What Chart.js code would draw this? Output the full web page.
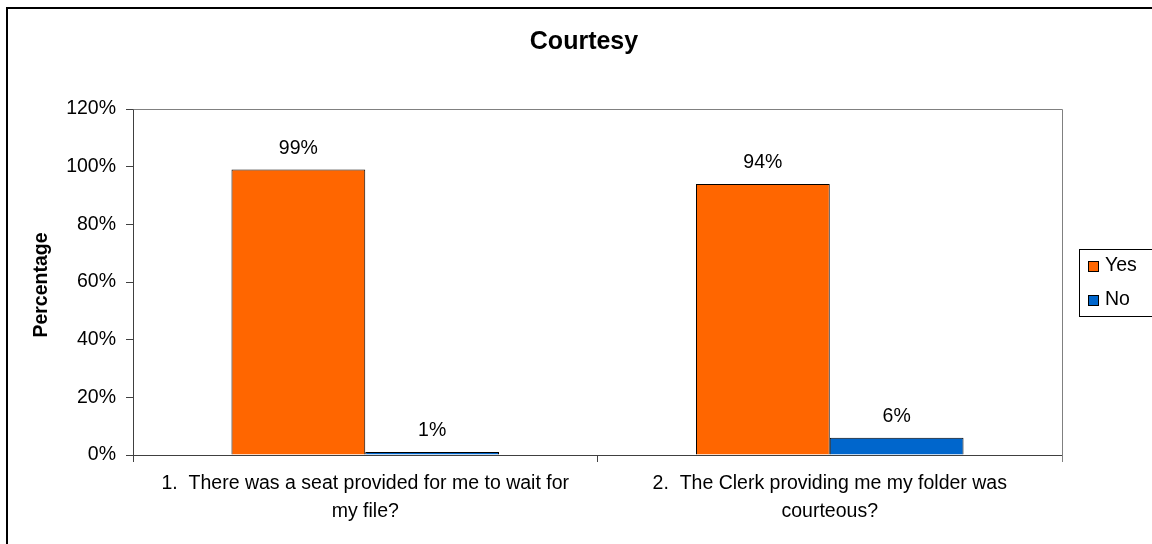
<!DOCTYPE html>
<html>
<head>
<meta charset="utf-8">
<script src="https://cdn.jsdelivr.net/npm/chart.js@4"></script>
<style>
  html, body { margin: 0; padding: 0; background: #ffffff; }
  #wrap { width: 1152px; height: 544px; }
</style>
</head>
<body>
<div id="wrap"><canvas id="c" width="1152" height="544"></canvas></div>
<script>
// Survey questions (x categories, wrapped onto two lines)
const categories = [
  ['1.  There was a seat provided for me to wait for', 'my file?'],
  ['2.  The Clerk providing me my folder was', 'courteous?']
];
// Share of answers, in percent
const yesValues = [99, 94];
const noValues = [1, 6];
const seriesNames = ['Yes', 'No'];
const yTicks = [0, 20, 40, 60, 80, 100, 120];
const chartTitle = 'Courtesy';
const yAxisTitle = 'Percentage';

const FONT = '"Liberation Sans", Arial, sans-serif';
const TEXT_SIZE = 19.5;
const ORANGE = '#FF6600';
const BLUE = '#0066CC';

// Frame, titles, legend and value labels
const decorations = {
  id: 'decorations',
  afterDraw(chart) {
    const ctx = chart.ctx;
    const area = chart.chartArea;
    ctx.save();

    // plot area frame (top and right edges)
    ctx.strokeStyle = '#808080';
    ctx.lineWidth = 1;
    ctx.beginPath();
    ctx.moveTo(Math.round(area.left) + 0.5, Math.round(area.top) + 0.5);
    ctx.lineTo(Math.round(area.right) + 0.5, Math.round(area.top) + 0.5);
    ctx.lineTo(Math.round(area.right) + 0.5, Math.round(area.bottom) + 7);
    ctx.stroke();

    // value labels above the bars
    ctx.fillStyle = '#000000';
    ctx.font = TEXT_SIZE + 'px ' + FONT;
    ctx.textAlign = 'center';
    ctx.textBaseline = 'alphabetic';
    chart.data.datasets.forEach((ds, i) => {
      const meta = chart.getDatasetMeta(i);
      meta.data.forEach((bar, j) => {
        ctx.fillText(ds.data[j] + '%', bar.x, bar.y - 16);
      });
    });

    // chart title
    ctx.font = 'bold 25px ' + FONT;
    ctx.textBaseline = 'middle';
    ctx.fillText(chartTitle, 584, 42);

    // y axis title
    ctx.save();
    ctx.translate(42, 285);
    ctx.rotate(-Math.PI / 2);
    ctx.font = 'bold ' + TEXT_SIZE + 'px ' + FONT;
    ctx.fillText(yAxisTitle, 0, 0);
    ctx.restore();

    // legend
    const lx = 1079, ly = 249, lw = 90, lh = 67;
    ctx.strokeStyle = '#000000';
    ctx.lineWidth = 1;
    ctx.strokeRect(lx + 0.5, ly + 0.5, lw, lh);
    ctx.font = TEXT_SIZE + 'px ' + FONT;
    ctx.textAlign = 'left';
    ctx.textBaseline = 'middle';
    chart.data.datasets.forEach((ds, i) => {
      const cy = ly + 17 + i * 34;
      ctx.fillStyle = ds.backgroundColor;
      ctx.fillRect(1088, cy - 5, 11, 11);
      ctx.strokeStyle = '#000000';
      ctx.strokeRect(1088.5, cy - 5 + 0.5, 10, 10);
      ctx.fillStyle = '#000000';
      ctx.fillText(ds.label, 1105, cy);
    });

    // outer chart frame
    ctx.strokeStyle = '#000000';
    ctx.lineWidth = 2;
    ctx.strokeRect(7, 8, 1200, 600);

    ctx.restore();
  }
};

new Chart(document.getElementById('c'), {
  type: 'bar',
  data: {
    labels: categories,
    datasets: [
      { label: seriesNames[0], data: yesValues, backgroundColor: ORANGE, borderColor: '#000000', borderWidth: 1 },
      { label: seriesNames[1], data: noValues, backgroundColor: BLUE, borderColor: '#000000', borderWidth: 1 }
    ]
  },
  options: {
    responsive: false,
    animation: false,
    devicePixelRatio: 1,
    layout: { padding: { left: 0, top: 109, right: 90, bottom: 0 } },
    datasets: { bar: { categoryPercentage: 0.576, barPercentage: 1.0 } },
    plugins: {
      legend: { display: false },
      title: { display: false },
      tooltip: { enabled: false }
    },
    scales: {
      x: {
        afterFit(scale) { scale.height = 89; },
        grid: { display: true, drawOnChartArea: false, drawTicks: true, tickLength: 7, tickColor: '#404040', offset: true },
        border: { display: true, color: '#404040', width: 1 },
        ticks: {
          color: '#000000',
          padding: 7,
          maxRotation: 0,
          autoSkip: false,
          font: { family: FONT, size: TEXT_SIZE, lineHeight: 1.45 }
        }
      },
      y: {
        min: 0,
        max: 120,
        afterFit(scale) { scale.width = 133; },
        afterBuildTicks(scale) { scale.ticks = yTicks.map(v => ({ value: v })); },
        grid: { display: true, drawOnChartArea: false, drawTicks: true, tickLength: 7, tickColor: '#404040' },
        border: { display: true, color: '#404040', width: 1 },
        ticks: {
          color: '#000000',
          padding: 10,
          font: { family: FONT, size: TEXT_SIZE },
          callback: v => v + '%'
        }
      }
    }
  },
  plugins: [decorations]
});
</script>
</body>
</html>
